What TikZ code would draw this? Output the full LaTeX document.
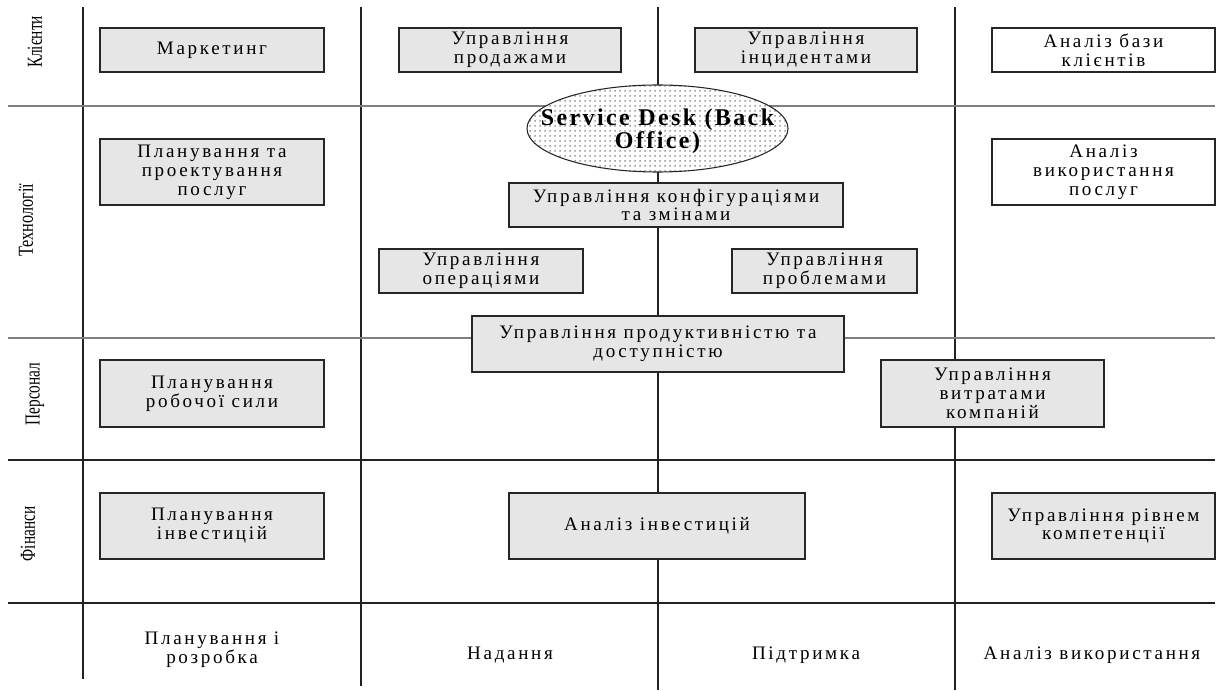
\documentclass[tikz,border=0pt]{standalone}
\usepackage{fontspec}
\usepackage{graphicx}
\setmainfont{Liberation Serif}[LetterSpace=14]
\newfontfamily\sidefont{Liberation Serif}
\newfontfamily\deskfont{Liberation Serif}[LetterSpace=10]
\usetikzlibrary{shapes.geometric,patterns.meta}
\definecolor{boxfill}{HTML}{E6E6E6}
\definecolor{gridD}{HTML}{222222}
\definecolor{gridL}{HTML}{7F7F7F}

\tikzset{
  gridline/.style={line width=1pt, draw=gridD},
  cell/.style 2 args={draw=black!85, line width=0.8pt, fill=boxfill, align=center,
    inner sep=0pt, minimum width=#1*0.75pt, minimum height=#2*0.75pt,
    font=\fontsize{14.3}{14.2}\selectfont},
  wcell/.style 2 args={cell={#1}{#2}, fill=white},
  sidelab/.style={rotate=90, font=\sidefont\fontsize{16}{18}\selectfont},
  collab/.style={align=center, font=\fontsize{14.3}{14.2}\selectfont}
}

\begin{document}
\begin{tikzpicture}[x=0.75pt, y=-0.75pt]
\useasboundingbox (0,0) rectangle (1229,691);
% grid of the matrix
\foreach \x/\yb in {83/679, 361/686, 658/690, 955/690}
  \draw[gridline] (\x,7) -- (\x,\yb);
\foreach \y/\c in {106/gridL, 338/gridL, 460/gridD, 603/gridD}
  \draw[gridline, draw=\c] (8,\y) -- (1215,\y);
% row labels
\node[sidelab] (rclient) at (35,42) {\scalebox{0.72}[1]{Клієнти}};
\node[sidelab] (rtech) at (26,220) {\scalebox{0.76}[1]{Технології}};
\node[sidelab] (rstaff) at (35,394) {\scalebox{0.72}[1]{Персонал}};
\node[sidelab] (rfin) at (28,534) {\scalebox{0.72}[1]{Фінанси}};
% customers row
\node[cell={224}{44}] (market) at (212,50) {Маркетинг};
\node[cell={222}{44}] (sales) at (510,50) {Управління\\продажами};
\node[cell={222}{44}] (incid) at (806,50) {Управління\\інцидентами};
\node[wcell={223}{44}] (custbase) at (1103.5,50) {Аналіз бази\\клієнтів};
% technology row
\node[cell={224}{66}] (srvplan) at (212,172) {Планування та\\проектування\\послуг};
\node[wcell={223}{66}] (srvuse) at (1103.5,172) {Аналіз\\використання\\послуг};
\node[draw=black!85, line width=0.8pt, ellipse, inner sep=0pt,
  minimum width=261*0.75pt, minimum height=87*0.75pt,
  preaction={fill=white}, pattern={Dots[radius=0.55pt, distance=3.75pt]},
  pattern color=black] (desk) at (657.5,128.5) {};
\node[align=center, font=\deskfont\bfseries\fontsize{18}{16.5}\selectfont] (desktxt) at (657.5,131.5) {Service Desk (Back\\Office)};
\node[cell={334}{44}] (config) at (676,205) {Управління конфігураціями\\та змінами};
\node[cell={204}{44}] (ops) at (481,271) {Управління\\операціями};
\node[cell={185}{44}] (probl) at (824.5,271) {Управління\\проблемами};
\node[cell={372}{56}] (perf) at (658,344) {Управління продуктивністю та\\доступністю};
% staff row
\node[cell={224}{67}] (workforce) at (212,393.5) {Планування\\робочої сили};
\node[cell={223}{67}] (costs) at (992.5,393.5) {Управління\\витратами\\компаній};
% finance row
\node[cell={224}{66}] (invplan) at (212,526) {Планування\\інвестицій};
\node[cell={296}{66}] (invan) at (657,526) {Аналіз інвестицій};
\node[cell={223}{66}] (compet) at (1103.5,526) {Управління рівнем\\компетенції};
% column labels
\node[collab] (cplan) at (212,650) {Планування і\\розробка};
\node[collab] (cdeliv) at (510,655) {Надання};
\node[collab] (csupp) at (806,655) {Підтримка};
\node[collab] (cuse) at (1092,655) {Аналіз використання};
\end{tikzpicture}
\end{document}
